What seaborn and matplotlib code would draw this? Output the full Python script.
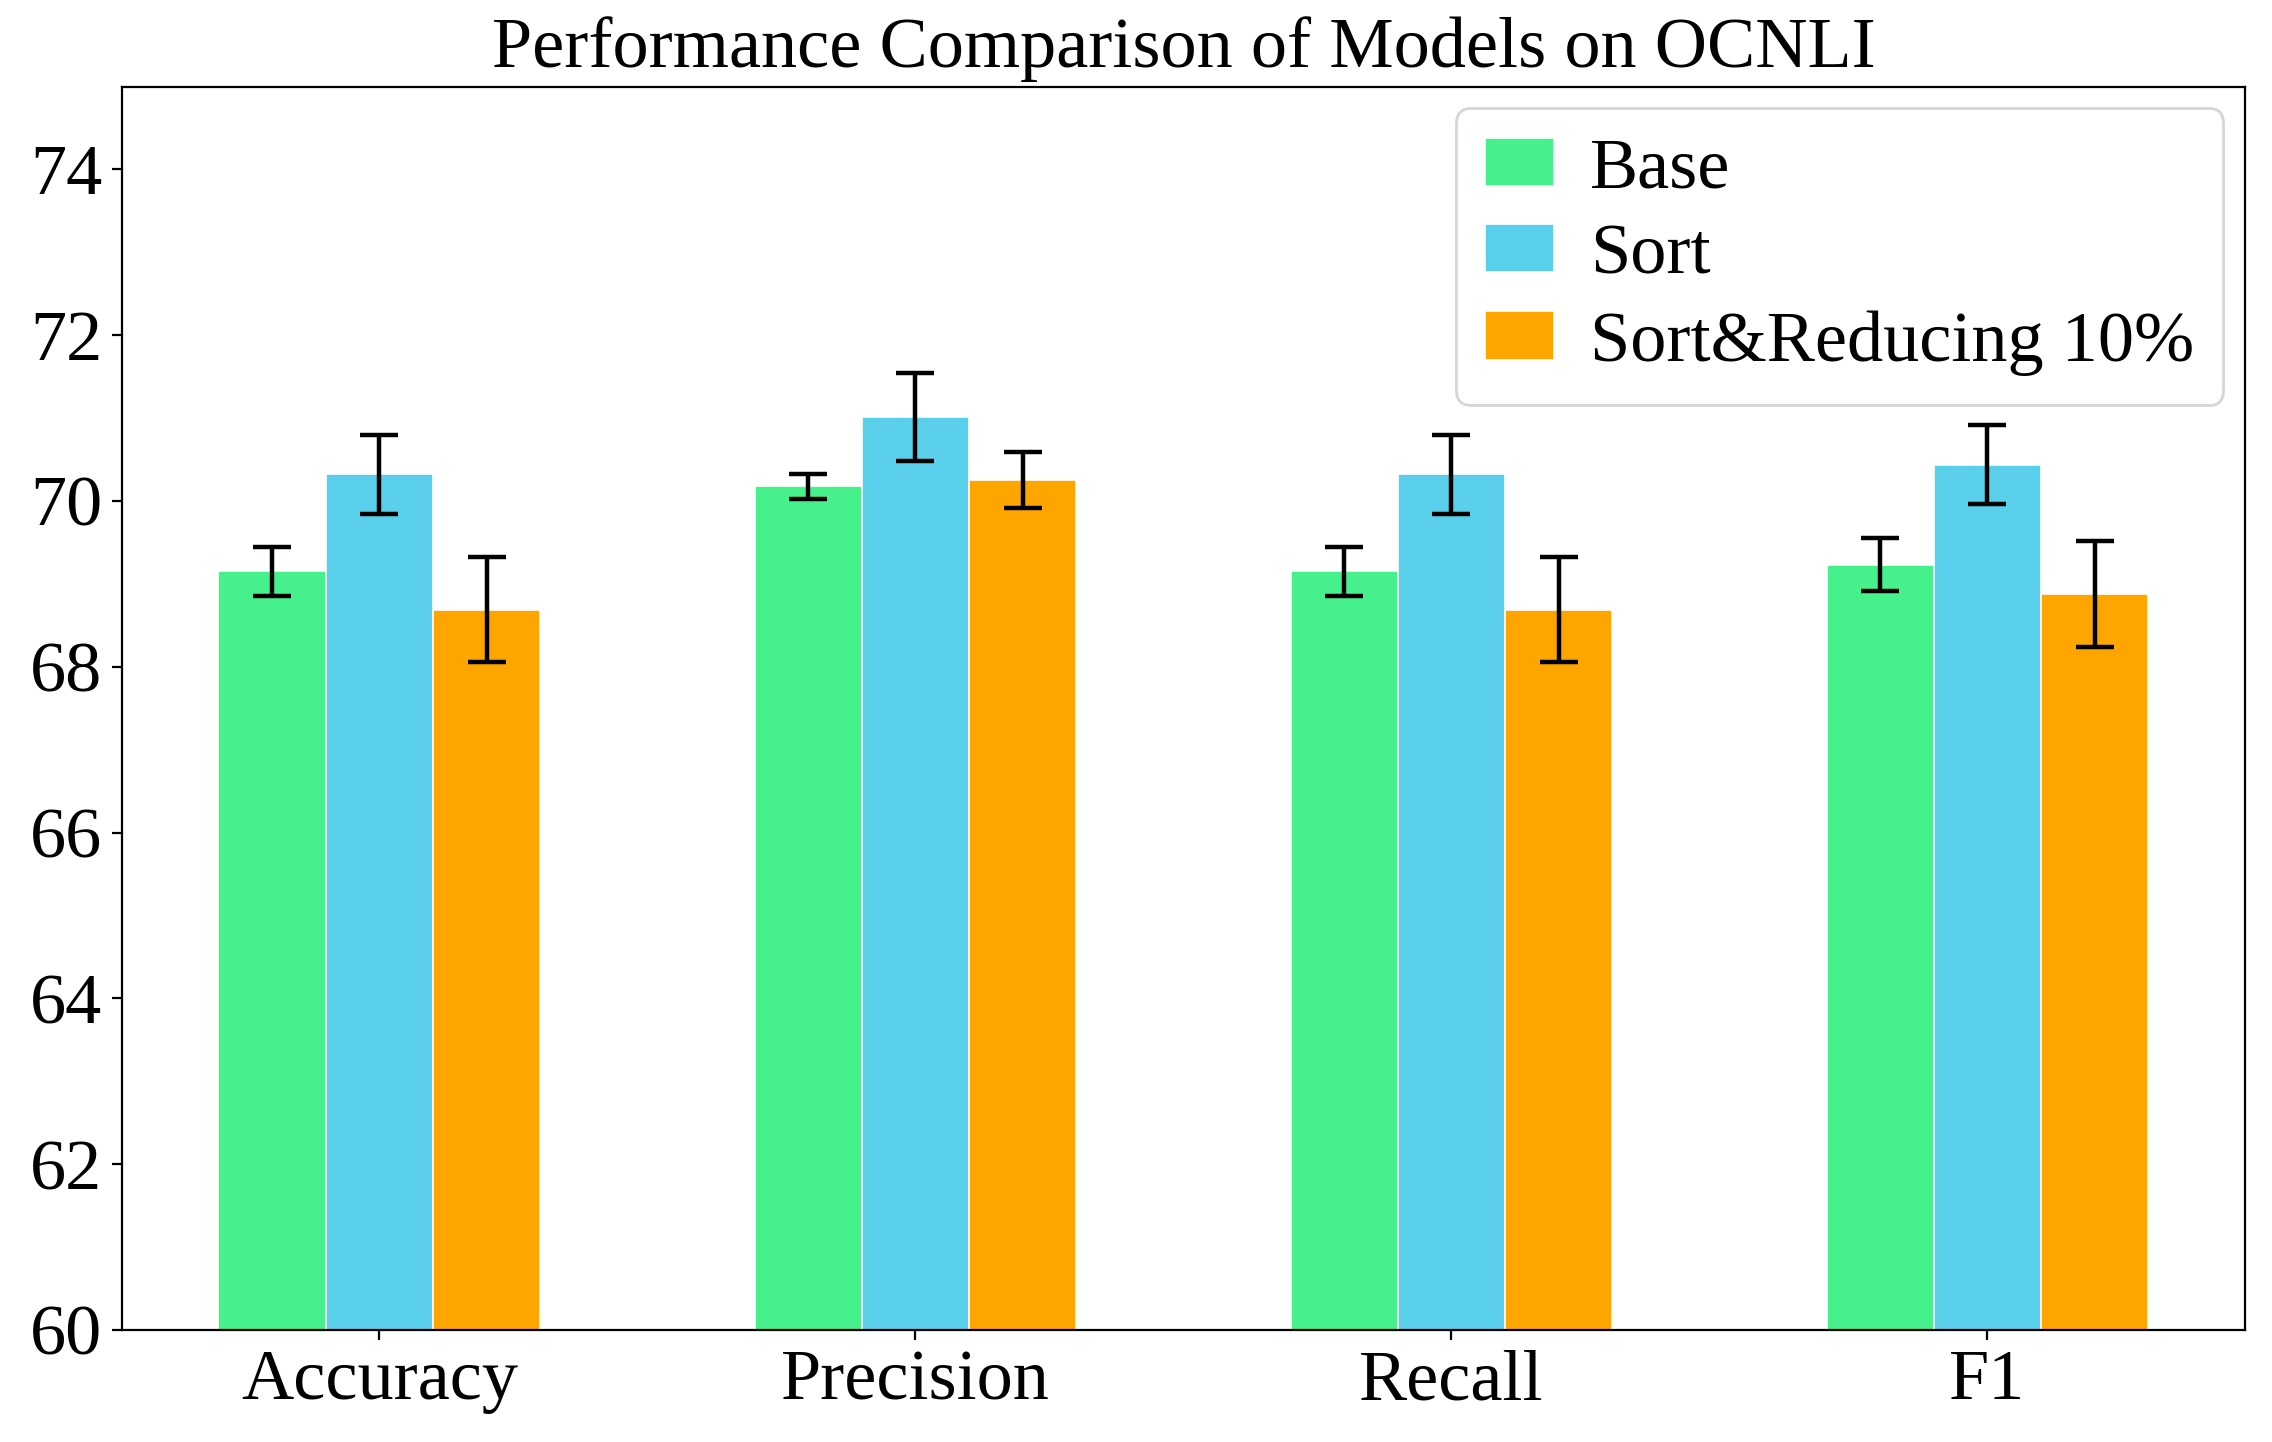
import numpy as np
import pandas as pd
import matplotlib
matplotlib.use("Agg")
import matplotlib.pyplot as plt
import seaborn as sns

# values
metrics = ["Accuracy", "Precision", "Recall", "F1"]
methods = ["Base", "Sort", "Sort&Reducing 10%"]
base_vals = [69.15, 70.18, 69.15, 69.23]
sort_vals = [70.32, 71.01, 70.32, 70.44]
reduce_vals = [68.69, 70.25, 68.69, 68.88]
base_err = [0.29, 0.15, 0.29, 0.32]
sort_err = [0.48, 0.53, 0.48, 0.48]
reduce_err = [0.63, 0.34, 0.63, 0.64]

colors = ["#46F08A", "#5ACFEB", "#FFA500"]

df = pd.DataFrame({
    "metric": metrics * 3,
    "method": np.repeat(methods, len(metrics)),
    "score": base_vals + sort_vals + reduce_vals,
})
errors = [base_err, sort_err, reduce_err]

plt.rcParams['font.family'] = ['Liberation Serif', 'DejaVu Serif']
plt.rcParams['font.size'] = 26

fig, ax = plt.subplots(figsize=(11.36, 7.21), dpi=200)
fig.subplots_adjust(left=0.0537, right=0.988, bottom=0.0777, top=0.940)

sns.barplot(data=df, x="metric", y="score", hue="method", order=metrics,
            hue_order=methods, palette=colors, width=0.6, errorbar=None,
            edgecolor="white", linewidth=0.6, saturation=1, ax=ax)

# error bars on top of each bar
for cont, err in zip(ax.containers, errors):
    xs = [p.get_x() + p.get_width() / 2 for p in cont.patches]
    ys = [p.get_height() for p in cont.patches]
    ax.errorbar(xs, ys, yerr=err, fmt="none", ecolor="black",
                elinewidth=1.6, capsize=6.8, capthick=1.6, zorder=5)

ax.set_ylim(60, 75)
ax.set_xlim(-0.48, 3.48)
ax.set_yticks([60, 62, 64, 66, 68, 70, 72, 74])
ax.set_xlabel("")
ax.set_ylabel("")
ax.set_title("Performance Comparison of Models on OCNLI", fontsize=26, pad=7)
ax.tick_params(axis="both", labelsize=26)
for s in ax.spines.values():
    s.set_visible(True)
    s.set_color("black")

ax.legend(loc="upper right", fontsize=26, handlelength=0.95, handleheight=0.65,
          handletextpad=0.5, labelspacing=0.3, borderaxespad=0.3)

fig.savefig("out.png", dpi=200)
